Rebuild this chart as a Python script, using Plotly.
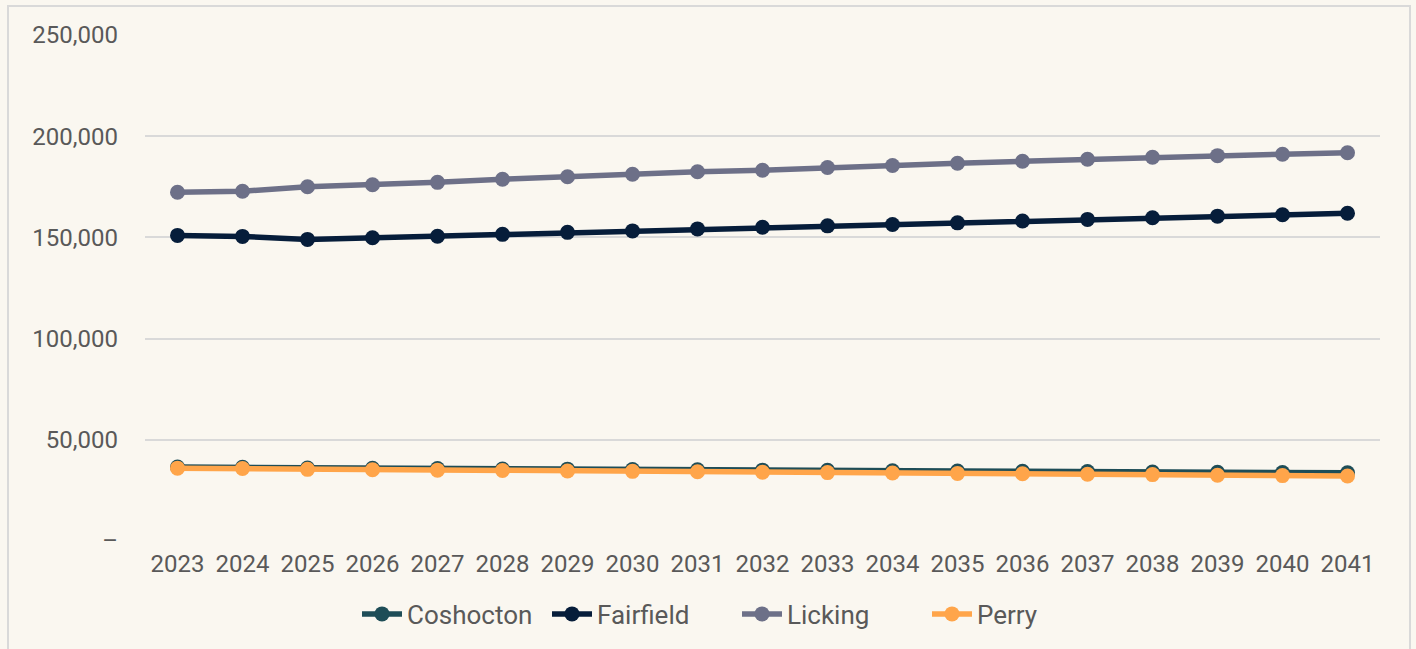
import plotly.graph_objects as go

years = [str(y) for y in range(2023, 2042)]

coshocton = [36500, 36400, 36100, 35900, 35800, 35600, 35500, 35300, 35200, 35000,
             34900, 34700, 34600, 34400, 34300, 34100, 34000, 33800, 33700]
fairfield = [151000, 150500, 149000, 149800, 150600, 151500, 152500, 153200, 154200, 155000,
             155700, 156400, 157200, 158100, 158900, 159700, 160500, 161200, 161900]
licking = [172300, 172800, 175000, 176000, 177200, 178700, 180000, 181200, 182400, 183200,
           184500, 185500, 186600, 187600, 188600, 189600, 190400, 191100, 191800]
perry = [36000, 35800, 35400, 35200, 35000, 34800, 34600, 34400, 34200, 34000,
         33800, 33600, 33400, 33200, 33000, 32800, 32500, 32300, 32100]

series = [
    ("Coshocton", coshocton, "#1E4D57"),
    ("Fairfield", fairfield, "#061D3A"),
    ("Licking", licking, "#6D7088"),
    ("Perry", perry, "#FFA54A"),
]

y_ticks = [0, 50000, 100000, 150000, 200000, 250000]
y_tick_text = ["–", "50,000", "100,000", "150,000", "200,000", "250,000"]

W, H = 1416, 649
ML, MR, MT, MB = 145, 36, 35, 108
pw, ph = W - ML - MR, H - MT - MB

fig = go.Figure()
for name, vals, color in series:
    fig.add_trace(go.Scatter(
        x=years, y=vals, name=name, mode="lines+markers",
        line=dict(color=color, width=5.5),
        marker=dict(color=color, size=15),
    ))

# outer frame around the chart
fig.add_shape(
    type="rect", xref="paper", yref="paper",
    x0=(8 - ML) / pw, x1=(1410 - ML) / pw,
    y0=(H - MB - 680) / ph, y1=(H - MB - 6) / ph,
    line=dict(color="#D9D9D9", width=2), fillcolor="rgba(0,0,0,0)", layer="below",
)

fig.update_layout(
    width=W, height=H,
    margin=dict(l=ML, r=MR, t=MT, b=MB),
    paper_bgcolor="#FAF7F0", plot_bgcolor="#FAF7F0",
    font=dict(family="Roboto", size=24, color="#595959"),
    showlegend=True,
    legend=dict(orientation="h", x=(737 - ML) / pw, xanchor="center",
                y=-(614 - (H - MB)) / ph, yanchor="middle",
                font=dict(size=26, color="#595959"), bgcolor="rgba(0,0,0,0)",
                itemwidth=40, entrywidth=135, entrywidthmode="pixels"),
    xaxis=dict(type="category", range=[-0.5, 18.5], showgrid=False, zeroline=False,
               showline=False, ticks="", tickfont=dict(size=24), ticklabelstandoff=6),
    yaxis=dict(range=[0, 250000], tickvals=y_ticks, ticktext=y_tick_text,
               showgrid=True, gridcolor="#D9D9D9", gridwidth=1.5, zeroline=False,
               showline=False, ticks="", tickfont=dict(size=24), ticklabelstandoff=26),
)

fig.write_html("out.html")
